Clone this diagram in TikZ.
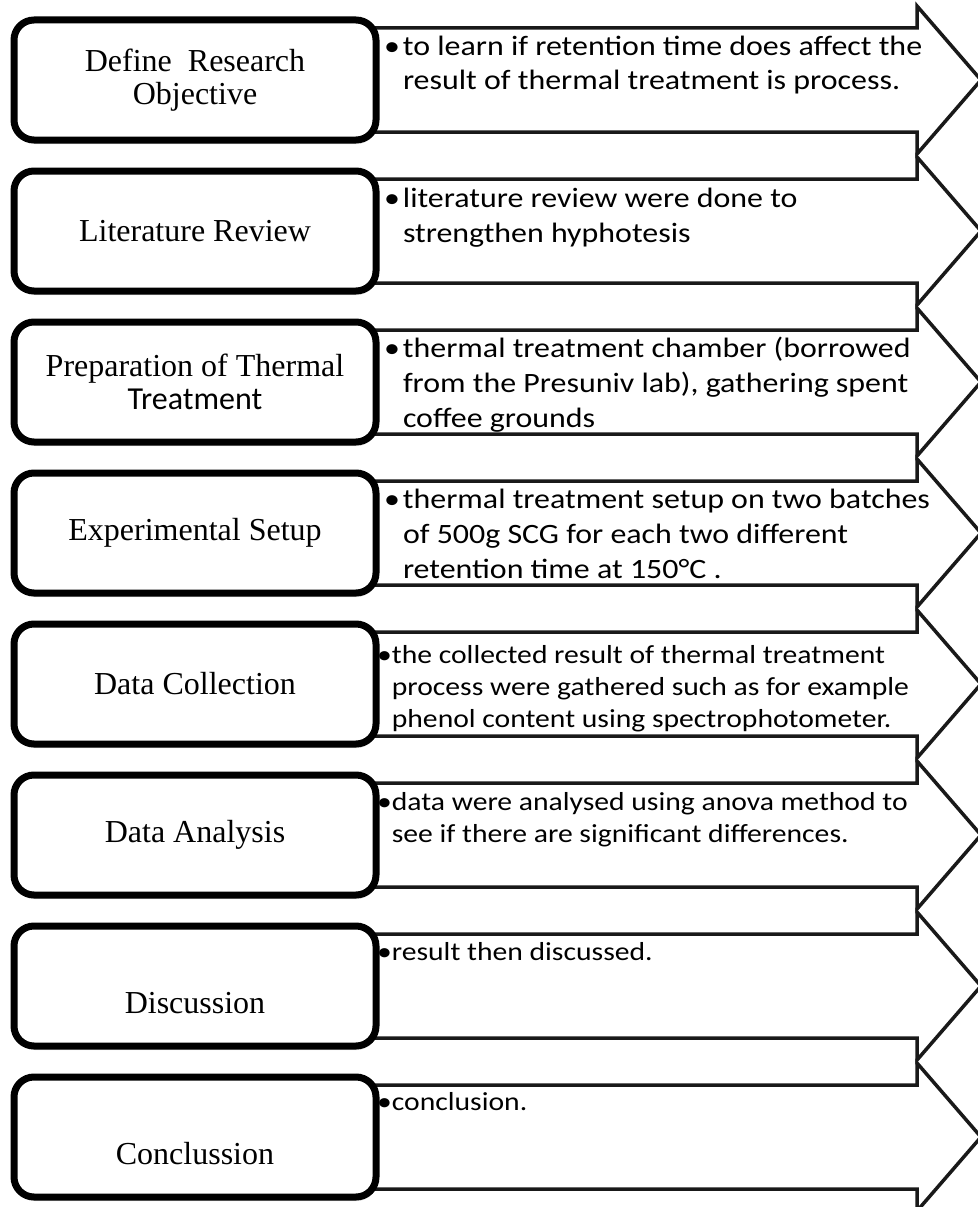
\documentclass[tikz,border=0pt]{standalone}
\usepackage{fontspec}
\setmainfont{Liberation Serif}
\newfontfamily\calfont[FakeStretch=1.14]{Carlito}
\newfontfamily\calbox{Carlito}
\usetikzlibrary{shadows}
\tikzset{
  stepbox/.style={draw=black, line width=14pt, rounded corners=40pt, fill=white,
    minimum width=724pt, minimum height=240pt, inner sep=0pt,
    drop shadow={opacity=0.22, shadow xshift=2pt, shadow yshift=-8pt}},
  boxtext/.style={align=center, inner sep=0pt, font=\fontsize{64}{66}\selectfont},
  arrowshape/.style={draw=black!90, line width=7pt, fill=white, line join=miter},
  desc/.style={anchor=base west, inner sep=0pt, font=\calfont\fontsize{56}{70}\selectfont},
  descs/.style={anchor=base west, inner sep=0pt, font=\calfont\fontsize{52}{64}\selectfont},
}
\begin{document}
\begin{tikzpicture}[x=2pt,y=-2pt]
\useasboundingbox (0,0) rectangle (977,1207);
% arrows
\foreach \i in {1,...,8}{
  \pgfmathsetmacro{\c}{80+151*(\i-1)}
  \draw[arrowshape] (360,\c-52) -- (917,\c-52) -- (917,\c-74) -- (981,\c)
     -- (917,\c+74) -- (917,\c+52) -- (360,\c+52) -- cycle;
}
% boxes
\node[stepbox] (b1) at (195,80)   {};
\node[stepbox] (b2) at (195,231)  {};
\node[stepbox] (b3) at (195,382)  {};
\node[stepbox] (b4) at (195,533)  {};
\node[stepbox] (b5) at (195,684)  {};
\node[stepbox] (b6) at (195,835)  {};
\node[stepbox] (b7) at (195,986)  {};
\node[stepbox] (b8) at (195,1137) {};
\node[boxtext] (l1) at (b1) {Define\ \ Research\\Objective};
\node[boxtext] (l2) at (b2) {Literature Review};
\node[boxtext] (l3) at (b3) {Preparation of Thermal\\{\calbox Treatment}};
\node[boxtext] (l4) at (b4) {Experimental Setup};
\node[boxtext] (l5) at (b5) {Data Collection};
\node[boxtext] (l6) at (b6) {Data Analysis};
\node[boxtext] (l7) at (b7) {\strut\\Discussion};
\node[boxtext] (l8) at (b8) {\strut\\Conclussion};
% descriptions
\node[desc] (t1) at (384,55) {\begin{tabular}[t]{@{}l@{\hspace{6pt}}l@{}}\textbullet & to learn if retention time does affect the\\ & result of thermal treatment is process.\end{tabular}};
\node[desc] (t2) at (384,207) {\begin{tabular}[t]{@{}l@{\hspace{6pt}}l@{}}\textbullet & literature review were done to\\ & strengthen hyphotesis\end{tabular}};
\node[desc] (t3) at (384,357) {\begin{tabular}[t]{@{}l@{\hspace{6pt}}l@{}}\textbullet & thermal treatment chamber (borrowed\\ & from the Presuniv lab), gathering spent\\ & coffee grounds\end{tabular}};
\node[desc] (t4) at (384,508) {\begin{tabular}[t]{@{}l@{\hspace{6pt}}l@{}}\textbullet & thermal treatment setup on two batches\\ & of 500g SCG for each two different\\ & retention time at 150°C .\end{tabular}};
\node[descs] (t5) at (377,663) {\begin{tabular}[t]{@{}l@{}l@{}}\textbullet & the collected result of thermal treatment\\ & process were gathered such as for example\\ & phenol content using spectrophotometer.\end{tabular}};
\node[descs] (t6) at (377,810) {\begin{tabular}[t]{@{}l@{}l@{}}\textbullet & data were analysed using anova method to\\ & see if there are significant differences.\end{tabular}};
\node[descs] (t7) at (377,960) {\begin{tabular}[t]{@{}l@{}l@{}}\textbullet & result then discussed.\end{tabular}};
\node[descs] (t8) at (377,1110) {\begin{tabular}[t]{@{}l@{}l@{}}\textbullet & conclusion.\end{tabular}};
\end{tikzpicture}
\end{document}
